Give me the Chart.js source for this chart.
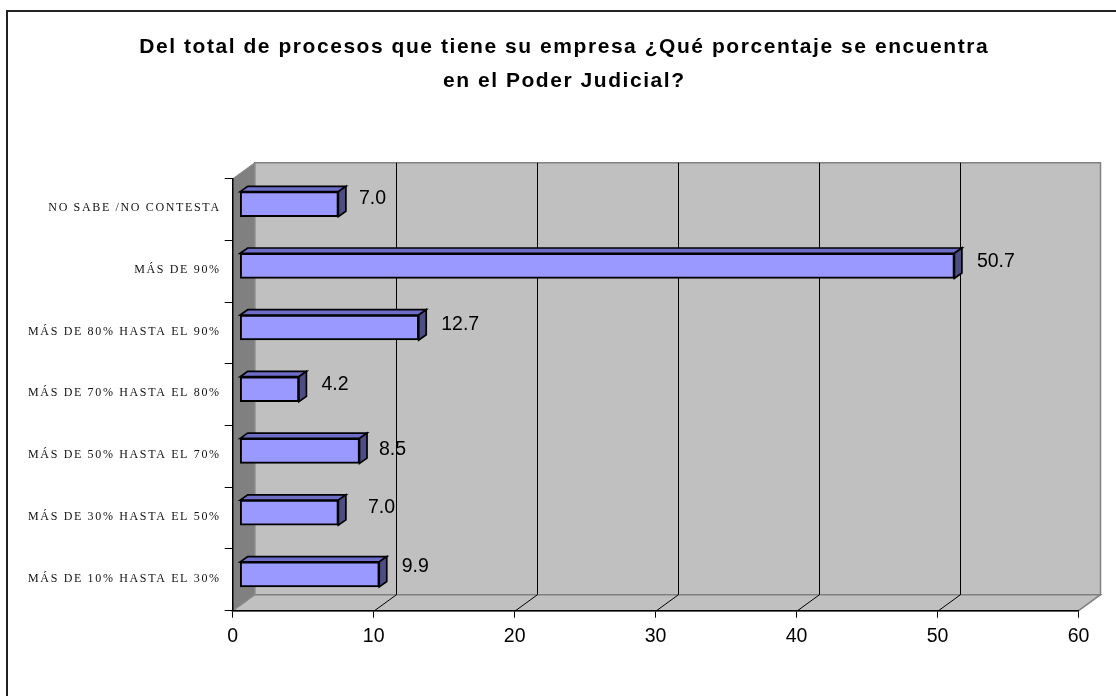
<!DOCTYPE html>
<html>
<head>
<meta charset="utf-8">
<style>
  html, body { margin: 0; padding: 0; background: #fff; }
  #wrap { position: relative; width: 1116px; height: 696px; }
</style>
<script src="https://cdn.jsdelivr.net/npm/chart.js@4"></script>
</head>
<body>
<div id="wrap"><canvas id="chart" width="1116" height="696"></canvas></div>
<script>
const titleLines = ['Del total de procesos que tiene su empresa ¿Qué porcentaje se encuentra', 'en el Poder Judicial?'];
const categories = [
  'NO SABE /NO CONTESTA',
  'MÁS DE 90%',
  'MÁS DE 80% HASTA EL 90%',
  'MÁS DE 70% HASTA EL 80%',
  'MÁS DE 50% HASTA EL 70%',
  'MÁS DE 30% HASTA EL 50%',
  'MÁS DE 10% HASTA EL 30%'
];
const values = [7.0, 50.7, 12.7, 4.2, 8.5, 7.0, 9.9];

// nudges for the value labels, they are not evenly placed in the original
const labelNudgeX = [1, 3, 3, 3, 0, 10, 3];
const labelNudgeY = [0, 1, 3, 1, 4, 0, -2];

const DEPTH_X = 22, DEPTH_Y = 16;      // box depth
const BAR_DX = 7, BAR_DY = 5.5;        // bars sit inside the box
const BAR_SIDE_X = 7.5, BAR_SIDE_Y = 5.3;

function poly(ctx, pts, fill, stroke, lw) {
  ctx.beginPath();
  pts.forEach((p, i) => i ? ctx.lineTo(p[0], p[1]) : ctx.moveTo(p[0], p[1]));
  ctx.closePath();
  if (fill) { ctx.fillStyle = fill; ctx.fill(); }
  if (stroke) { ctx.strokeStyle = stroke; ctx.lineWidth = lw || 1; ctx.stroke(); }
}

// run a draw function with letter spacing switched on
function spaced(obj, method, ctx, amount) {
  const orig = obj[method];
  obj[method] = function (...args) {
    ctx.letterSpacing = amount;
    orig.apply(this, args);
    ctx.letterSpacing = '0px';
  };
}

const box3d = {
  id: 'box3d',
  afterLayout(chart) {
    // title is centred a bit right of the canvas centre
    chart.titleBlock.left = 50;
    if (chart._spacedDone) return;
    spaced(chart.scales.y, 'drawLabels', chart.ctx, '1.65px');
    spaced(chart.titleBlock, 'draw', chart.ctx, '1.55px');
    chart._spacedDone = true;
  },
  beforeDraw(chart) {
    const { ctx, chartArea: a, scales: { x } } = chart;
    ctx.save();
    // frame only shows on top and left, the rest is cut off by the picture
    ctx.strokeStyle = '#222';
    ctx.lineWidth = 2;
    ctx.beginPath();
    ctx.moveTo(7, 696);
    ctx.lineTo(7, 11);
    ctx.lineTo(1116, 11);
    ctx.stroke();
    // back wall, floor, side wall
    poly(ctx, [[a.left + DEPTH_X, a.top - DEPTH_Y], [a.right + DEPTH_X, a.top - DEPTH_Y], [a.right + DEPTH_X, a.bottom - DEPTH_Y], [a.left + DEPTH_X, a.bottom - DEPTH_Y]], '#c0c0c0', '#808080', 1.5);
    poly(ctx, [[a.left, a.bottom], [a.left + DEPTH_X, a.bottom - DEPTH_Y], [a.right + DEPTH_X, a.bottom - DEPTH_Y], [a.right, a.bottom]], '#c0c0c0', '#808080', 1.5);
    poly(ctx, [[a.left, a.top], [a.left + DEPTH_X, a.top - DEPTH_Y], [a.left + DEPTH_X, a.bottom - DEPTH_Y], [a.left, a.bottom]], '#808080', '#8c8c8c', 1);
    // grid lines, along the floor then up the wall
    ctx.strokeStyle = '#000';
    ctx.lineWidth = 1;
    x.ticks.forEach(t => {
      if (t.value === 0 || t.value === x.max) return;
      const px = Math.round(x.getPixelForValue(t.value)) + 0.5;
      ctx.beginPath();
      ctx.moveTo(px, a.bottom);
      ctx.lineTo(px + DEPTH_X, a.bottom - DEPTH_Y);
      ctx.lineTo(px + DEPTH_X, a.top - DEPTH_Y);
      ctx.stroke();
    });
    ctx.restore();
  },
  beforeDatasetsDraw(chart) {
    chart.ctx.save();
    chart.ctx.translate(BAR_DX, -BAR_DY);
  },
  afterDatasetsDraw(chart) {
    const { ctx } = chart;
    const bars = chart.getDatasetMeta(0).data;
    bars.forEach((b) => {
      const p = b.getProps(['x', 'y', 'base', 'height'], true);
      const top = p.y - p.height / 2, bot = p.y + p.height / 2;
      poly(ctx, [[p.base, top], [p.base + BAR_SIDE_X, top - BAR_SIDE_Y], [p.x + BAR_SIDE_X, top - BAR_SIDE_Y], [p.x, top]], '#6e6ec8', '#000', 1.7);
      poly(ctx, [[p.x, top], [p.x + BAR_SIDE_X, top - BAR_SIDE_Y], [p.x + BAR_SIDE_X, bot - BAR_SIDE_Y], [p.x, bot]], '#4d4d85', '#000', 1.7);
    });
    ctx.restore();
    // value labels
    ctx.save();
    ctx.font = '19.5px "Liberation Sans"';
    ctx.fillStyle = '#000';
    ctx.textAlign = 'left';
    ctx.textBaseline = 'middle';
    bars.forEach((b, i) => {
      ctx.fillText(values[i].toFixed(1), b.x + 7.5 + 19 + labelNudgeX[i], b.y - 11 + labelNudgeY[i]);
    });
    ctx.restore();
  }
};

new Chart(document.getElementById('chart'), {
  type: 'bar',
  data: {
    labels: categories,
    datasets: [{
      data: values,
      backgroundColor: '#9999ff',
      borderColor: '#000',
      borderWidth: 2,
      borderSkipped: false,
      barThickness: 25
    }]
  },
  plugins: [box3d],
  options: {
    indexAxis: 'y',
    responsive: false,
    animation: false,
    layout: { padding: { top: 0, left: 0, right: 37.5, bottom: 0 } },
    plugins: {
      legend: { display: false },
      tooltip: { enabled: false },
      title: {
        display: true,
        text: titleLines,
        color: '#000',
        font: { family: '"Liberation Sans"', size: 21, weight: 'bold', lineHeight: 1.62 },
        padding: { top: 30.5, bottom: 80.2 }
      }
    },
    scales: {
      x: {
        min: 0,
        max: 60,
        ticks: { stepSize: 10, color: '#000', font: { family: '"Liberation Sans"', size: 19.5 }, padding: 7, maxRotation: 0 },
        grid: { drawOnChartArea: false, tickLength: 7, color: '#000' },
        border: { color: '#000', width: 1.5 },
        afterFit(s) { s.height = 85.3; }
      },
      y: {
        ticks: { color: '#111', font: { family: '"Liberation Serif"', size: 12 }, padding: 4, labelOffset: -1.5, autoSkip: false },
        grid: { drawOnChartArea: false, tickLength: 8, color: '#000' },
        border: { color: '#000', width: 1.5 },
        afterFit(s) { s.width = 232.7; }
      }
    }
  }
});
</script>
</body>
</html>
